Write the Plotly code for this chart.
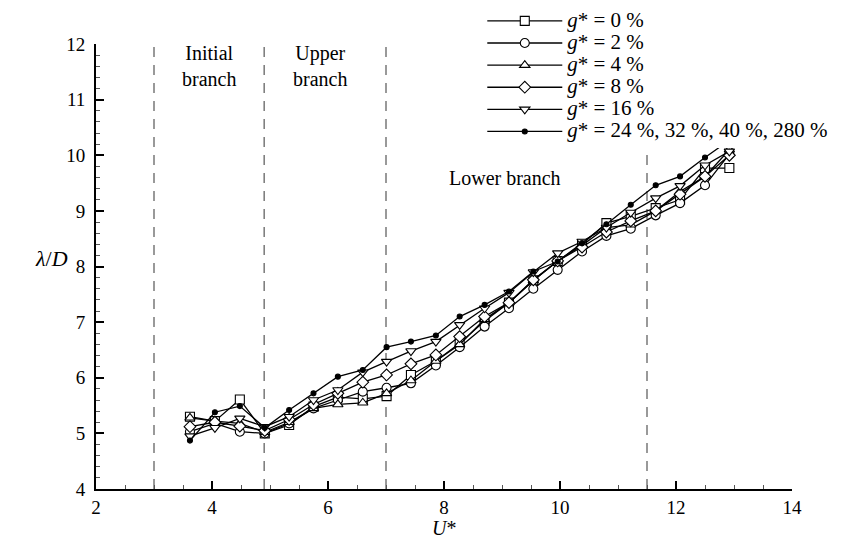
import plotly.graph_objects as go

# reduced velocity, shared by all runs
U_STAR = [3.62, 4.05, 4.48, 4.91, 5.33, 5.75, 6.17, 6.6, 7.01, 7.43, 7.86, 8.27,
          8.7, 9.12, 9.54, 9.96, 10.38, 10.8, 11.22, 11.65, 12.07, 12.5, 12.92]

# wavelength ratio lambda/D for each gap ratio g*
LAMBDA_G0 = [5.3, 5.22, 5.61, 5.0, 5.15, 5.48, 5.65, 5.62, 5.67, 6.05, 6.3, 6.62,
             7.02, 7.35, 7.75, 8.1, 8.4, 8.78, 8.9, 9.05, 9.2, 9.77, 9.77]
LAMBDA_G2 = [5.03, 5.18, 5.03, 5.0, 5.18, 5.45, 5.6, 5.75, 5.82, 5.9, 6.22, 6.55,
             6.92, 7.25, 7.6, 7.94, 8.27, 8.55, 8.68, 8.92, 9.14, 9.46, 10.02]
LAMBDA_G4 = [5.28, 5.22, 5.18, 5.02, 5.2, 5.45, 5.52, 5.55, 5.72, 5.95, 6.3, 6.6,
             7.05, 7.35, 7.75, 8.1, 8.38, 8.7, 8.75, 9.0, 9.35, 9.62, 10.1]
LAMBDA_G8 = [5.12, 5.2, 5.13, 5.05, 5.25, 5.52, 5.72, 5.92, 6.05, 6.25, 6.41, 6.74,
             7.1, 7.35, 7.76, 8.1, 8.35, 8.62, 8.82, 9.0, 9.3, 9.62, 10.0]
LAMBDA_G16 = [4.95, 5.1, 5.27, 5.12, 5.3, 5.6, 5.78, 6.1, 6.29, 6.48, 6.65, 6.95,
              7.25, 7.53, 7.9, 8.24, 8.45, 8.7, 8.97, 9.23, 9.45, 9.82, 10.07]
LAMBDA_G24 = [4.87, 5.38, 5.49, 5.1, 5.42, 5.72, 6.02, 6.14, 6.55, 6.65, 6.76, 7.1,
              7.31, 7.55, 7.91, 8.09, 8.42, 8.76, 9.11, 9.46, 9.62, 9.96, 10.27]

LEGEND_LABELS = [
    "<i>g</i>* = 0 %",
    "<i>g</i>* = 2 %",
    "<i>g</i>* = 4 %",
    "<i>g</i>* = 8 %",
    "<i>g</i>* = 16 %",
    "<i>g</i>* = 24 %, 32 %, 40 %, 280 %",
]
SERIES = [LAMBDA_G0, LAMBDA_G2, LAMBDA_G4, LAMBDA_G8, LAMBDA_G16, LAMBDA_G24]
SYMBOLS = ["square", "circle", "triangle-up", "diamond", "triangle-down", "circle"]

# branch boundaries and labels
BRANCH_BOUNDS = [3, 4.9, 7, 11.5]
BRANCH_LABELS = ["Initial<br>branch", "Upper<br>branch", "Lower branch"]
BRANCH_LABEL_X = [3.95, 5.87, 9.06]
BRANCH_LABEL_Y = [11.6, 11.6, 9.6]

FONT = "Liberation Serif, Times New Roman, serif"

fig = go.Figure()

for label, values, symbol in zip(LEGEND_LABELS, SERIES, SYMBOLS):
    filled = label.endswith("280 %")
    fig.add_trace(
        go.Scatter(
            x=U_STAR,
            y=values,
            # bigger glyphs than the legend font so the rows stay tight
            name=f'<span style="font-size:21px">{label}</span>',
            mode="lines+markers",
            line=dict(color="black", width=1.3),
            marker=dict(
                symbol=symbol,
                size=5 if filled else 9,
                color="black" if filled else "white",
                line=dict(color="black", width=1.1),
            ),
        )
    )

for bound in BRANCH_BOUNDS:
    fig.add_shape(
        type="line", xref="x", yref="y", x0=bound, x1=bound, y0=4, y1=12,
        line=dict(color="#808080", width=1.6, dash="10px,8px"), layer="below",
    )

for text, x, y in zip(BRANCH_LABELS, BRANCH_LABEL_X, BRANCH_LABEL_Y):
    fig.add_annotation(x=x, y=y, text=text, showarrow=False,
                       font=dict(family=FONT, size=20, color="black"))

# axis titles as plain annotations (the y one is not rotated)
fig.add_annotation(x=-0.09, y=0.517, xref="paper", yref="paper",
                   text="<i>λ</i>/<i>D</i>", showarrow=False,
                   font=dict(family=FONT, size=22, color="black"))
fig.add_annotation(x=0.5, y=-0.088, xref="paper", yref="paper", yanchor="middle",
                   text="<i>U</i>*", showarrow=False,
                   font=dict(family=FONT, size=20, color="black"))

axis_style = dict(
    showgrid=False, zeroline=False, showline=True, linecolor="black", linewidth=2,
    ticks="inside", ticklen=8, tickwidth=1.5, tickcolor="black",
    tickfont=dict(family=FONT, size=19, color="black"),
)

fig.update_xaxes(
    range=[2, 14], dtick=2, tick0=2,
    minor=dict(ticks="inside", ticklen=4, dtick=0.5, tickcolor="#555", tickwidth=1),
    **axis_style,
)
fig.update_yaxes(
    range=[4, 12], dtick=1, tick0=4, ticklabelstandoff=5,
    minor=dict(ticks="inside", ticklen=4, dtick=0.2, tickcolor="#555", tickwidth=1),
    **axis_style,
)

fig.update_layout(
    width=854, height=539,
    margin=dict(l=88, r=70, t=36, b=58, autoexpand=False),
    plot_bgcolor="white", paper_bgcolor="white",
    font=dict(family=FONT, color="black"),
    legend=dict(
        x=0.555, y=1.088, xanchor="left", yanchor="top",
        bgcolor="white", font=dict(family=FONT, size=14.7, color="black"),
        tracegroupgap=0, itemwidth=75,
    ),
)

fig.write_html("out.html")
